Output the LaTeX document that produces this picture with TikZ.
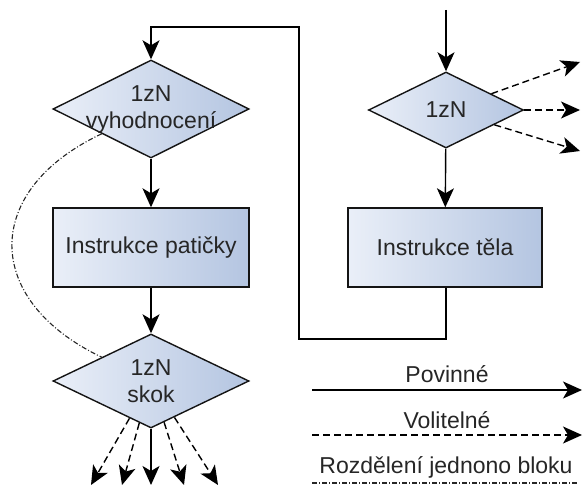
\documentclass[tikz,border=0pt]{standalone}
\usepackage{fontspec}
\setmainfont{Liberation Sans}
\usetikzlibrary{shapes.geometric,arrows.meta}
\definecolor{fillA}{RGB}{234,239,248}
\definecolor{fillB}{RGB}{180,197,225}
\definecolor{edge}{RGB}{20,20,20}
\tikzset{
  blk/.style={draw=edge, line width=1.4pt, left color=fillA, right color=fillB, inner sep=0pt},
  dia/.style={blk, diamond, aspect=2},
  rbox/.style={blk, rectangle},
  lbl/.style={font=\fontsize{23}{27}\selectfont, text=black!85, align=center, inner sep=0pt},
  arr/.style={line width=1.4pt, -{Stealth[length=19pt,width=17pt,inset=5pt]}},
  opt/.style={arr, dash pattern=on 7pt off 4pt},
  dd/.style={line width=1.1pt, black!85, dash pattern=on 5pt off 2pt on 1pt off 2pt},
}
\begin{document}
\begin{tikzpicture}[x=1pt,y=-1pt]
\useasboundingbox (0,0) rectangle (585,486);
% left column
\node[dia, minimum width=196pt, minimum height=98pt] (d1) at (151,109) {};
\node[lbl] (t1) at (d1) {1zN\\vyhodnocení};
\node[rbox, minimum width=196pt, minimum height=79pt] (r1) at (151,247.5) {};
\node[lbl] (t2) at (r1) {Instrukce patičky};
\node[dia, minimum width=196pt, minimum height=94pt] (d2) at (151,381) {};
\node[lbl] (t3) at (d2) {1zN\\skok};
% right column
\node[dia, minimum width=155pt, minimum height=76pt] (d3) at (446,110) {};
\node[lbl] (t4) at (d3) {1zN};
\node[rbox, minimum width=194pt, minimum height=79pt] (r2) at (445,247.5) {};
\node[lbl] (t5) at (r2) {Instrukce těla};
% coordinates
\coordinate (in3) at (446,10);
\coordinate (c1) at (446,339);
\coordinate (c2) at (299,339);
\coordinate (c3) at (299,27);
\coordinate (c4) at (151,27);
\coordinate (o1) at (580,62);
\coordinate (o2) at (580,110);
\coordinate (o3) at (580,151);
\coordinate (b1) at (91,485);
\coordinate (b2) at (122,485);
\coordinate (b3) at (151,485);
\coordinate (b4) at (184,485);
\coordinate (b5) at (218,485);
% connectors
\draw[arr] (in3) -- (d3);
\draw[arr] (d3) -- (r2);
\draw[arr] (r2.south -| c1) -- (c1) -- (c2) -- (c3) -- (c4) -- (d1);
\draw[arr] (d1) -- (r1);
\draw[arr] (r1) -- (d2);
\draw[opt] (d3) -- (o1);
\draw[opt] (d3) -- (o2);
\draw[opt] (d3) -- (o3);
\draw[opt] (d2) -- (b1);
\draw[opt] (d2) -- (b2);
\draw[arr] (d2.south) -- (b3);
\draw[opt] (d2) -- (b4);
\draw[opt] (d2) -- (b5);
\draw[dd] (d1.south west) .. controls (-18,190) and (-18,300) .. (d2.north west);
% legend
\coordinate (l1a) at (312,390);
\coordinate (l1b) at (582,390);
\coordinate (l2a) at (312,435);
\coordinate (l2b) at (582,435);
\coordinate (l3a) at (312,483);
\coordinate (l3b) at (578,483);
\node[lbl] (p1) at (447,374) {Povinné};
\draw[arr] (l1a) -- (l1b);
\node[lbl] (p2) at (447,420) {Volitelné};
\draw[opt] (l2a) -- (l2b);
\node[lbl] (p3) at (446,467) {Rozdělení jednono bloku};
\draw[dd] (l3a) -- (l3b);
\end{tikzpicture}
\end{document}
